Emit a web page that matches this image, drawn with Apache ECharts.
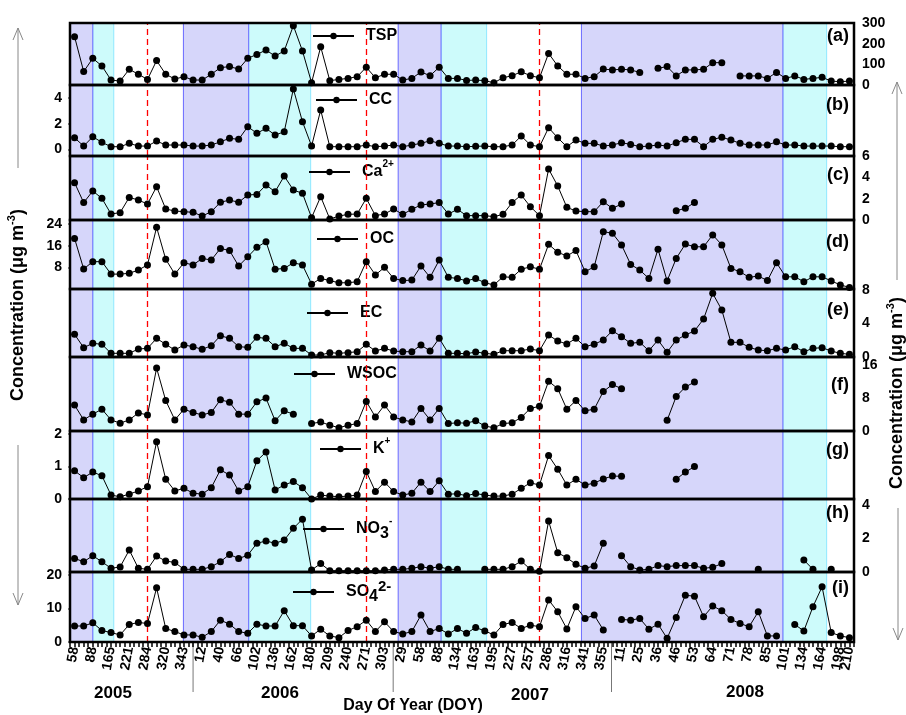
<!DOCTYPE html>
<html><head><meta charset="utf-8">
<script src="https://cdn.jsdelivr.net/npm/echarts@6/dist/echarts.min.js"></script>
<style>html,body{margin:0;padding:0;background:#fff}#c{width:906px;height:715px}</style>
</head><body><div id="c"></div>
<script>
// ---- tick labels (sample index -> DOY label) ----
const tickIdx = [0,2,4,6,8,10,12,14,16,18,20,22,24,26,28,30,32,34,36,38,40,42,44,46,48,50,52,54,56,58,60,62,64,66,68,70,72,74,76,78,80,82,84,85];
const tickLabels = ['58','88','165','221','284','320','343','12','40','66','102','136','162','180','209','240','271','303','29','58','88','134','163','195','227','257','286','316','341','355','11','25','36','46','53','64','71','78','85','101','134','164','198','210'];
const years = ['2005','2006','2007','2008'];
const yearBreaks = [13.0, 34.95, 58.9];
const redLines = [8, 32, 51];
const purpleBands = [[-0.5,2.0],[11.94,19.1],[35.5,40.2],[55.6,77.7]];
const cyanBands = [[2.0,4.3],[19.1,25.9],[40.2,45.2],[77.7,82.5]];
const N = null;
// ---- series values (µg m-3), one per sample ----
const TSP = [234,65,129,92,24,19,76,52,27,118,52,29,40,24,24,52,84,89,77,129,148,169,140,165,287,165,11,185,21,27,32,40,86,35,52,52,24,32,63,45,86,32,32,22,24,21,11,35,45,64,45,35,153,92,52,52,32,40,77,73,76,73,61,N,81,89,44,73,73,76,108,108,N,44,44,44,32,61,32,44,27,32,37,19,16,19];
const CC = [0.91,0.27,0.99,0.56,0.22,0.22,0.48,0.27,0.27,0.66,0.35,0.35,0.35,0.27,0.27,0.35,0.6,0.87,0.79,1.77,1.26,1.64,1.12,1.38,4.69,2.16,0.27,3.06,0.22,0.22,0.22,0.22,0.35,0.22,0.27,0.35,0.22,0.35,0.48,0.68,0.48,0.27,0.27,0.22,0.25,0.27,0.22,0.22,0.35,1.05,0.35,0.22,1.69,0.91,0.22,0.74,0.48,0.48,0.27,0.35,0.53,0.4,0.22,0.27,0.35,0.27,0.53,0.79,0.79,0.22,0.79,0.95,0.74,0.48,0.35,0.35,0.35,0.6,0.35,0.35,0.27,0.27,0.27,0.27,0.22,0.22];
const CA = [3.5,1.63,2.72,2.03,0.56,0.69,2.12,1.87,1.5,3.12,1.03,0.84,0.78,0.72,0.37,0.78,1.66,1.87,1.66,2.34,2.4,3.28,2.65,4.12,2.81,2.5,0.22,2.19,0.09,0.37,0.53,0.56,2.03,0.41,0.56,1.03,0.53,1.0,1.41,1.5,1.63,0.56,1.0,0.41,0.41,0.41,0.31,0.53,1.63,2.34,1.25,0.41,4.78,3.19,1.19,0.84,0.78,0.78,1.72,1.09,1.5,N,N,N,N,N,0.87,1.09,1.63,N,N,N,N,N,N,N,N,N,N,N,N,N,N,N,N,N];
const OC = [18.7,7.4,10.1,10.1,5.5,5.5,5.8,7.0,8.9,22.8,11.0,5.5,9.7,8.9,11.3,10.7,15.0,14.2,8.5,11.9,15.4,17.5,7.3,7.6,9.7,8.9,1.8,3.9,3.1,2.3,2.3,2.7,10.1,5.2,8.0,3.9,3.1,3.3,8.5,4.3,10.7,4.3,3.9,3.0,3.9,2.3,1.5,4.5,4.3,7.3,8.2,7.3,16.5,13.6,12.2,14.2,6.4,8.2,21.2,20.6,16.3,9.1,7.0,3.9,14.7,3.0,11.3,16.6,15.6,15.6,20.0,16.3,7.6,6.4,4.3,4.8,3.1,9.7,4.5,4.5,2.7,4.5,4.5,3.0,1.5,0.6];
const EC = [2.7,1.11,1.63,1.51,0.44,0.44,0.44,0.95,1.03,2.22,1.51,0.83,1.43,1.23,0.91,1.35,2.54,2.22,1.23,1.15,2.34,2.22,1.23,1.63,1.03,1.03,0.24,0.24,0.52,0.44,0.52,0.63,1.51,0.71,1.03,0.71,0.63,0.63,1.43,0.71,2.22,0.44,0.44,0.38,0.6,0.44,0.32,0.75,0.75,0.75,0.95,0.75,2.62,1.9,1.55,2.22,1.23,1.51,2.02,3.13,2.42,1.63,1.75,0.75,2.02,0.56,2.02,2.62,3.1,4.52,7.58,5.6,1.75,1.75,1.15,0.83,0.75,1.03,0.83,1.23,0.63,1.03,1.11,0.71,0.44,0.32];
const WSOC = [6.3,2.7,4.1,5.3,2.7,1.9,2.7,4.4,3.9,15.3,7.4,2.7,5.3,4.5,3.9,4.5,7.6,7.0,4.1,4.1,7.1,8.0,2.5,4.9,4.1,N,1.8,2.2,1.4,0.8,1.4,1.8,7.2,3.4,6.3,3.4,2.7,2.2,5.5,2.7,5.5,1.8,2.0,1.9,2.5,1.2,0.8,1.8,2.0,3.3,5.5,6.0,12.1,10.3,5.3,7.4,4.9,5.3,9.6,11.3,10.3,N,N,N,N,2.6,8.4,10.7,11.9,N,N,N,N,N,N,N,N,N,N,N,N,N,N,N,N,N];
const K = [0.87,0.66,0.83,0.72,0.12,0.07,0.15,0.25,0.38,1.77,0.61,0.25,0.33,0.18,0.15,0.35,0.9,0.74,0.25,0.38,1.18,1.45,0.28,0.43,0.54,0.35,0.0,0.12,0.09,0.07,0.09,0.12,0.85,0.23,0.52,0.23,0.12,0.18,0.52,0.23,0.56,0.15,0.16,0.1,0.17,0.12,0.09,0.09,0.15,0.33,0.5,0.43,1.34,0.92,0.43,0.61,0.43,0.49,0.62,0.71,0.7,N,N,N,N,N,0.61,0.83,1.0,N,N,N,N,N,N,N,N,N,N,N,N,N,N,N,N,N];
const NO3 = [0.81,0.61,0.97,0.61,0.22,0.3,1.31,0.22,0.16,0.95,0.65,0.57,0.16,0.16,0.16,0.32,0.61,1.05,0.8,1.0,1.71,1.85,1.71,1.9,2.6,3.15,0.12,0.5,0.08,0.08,0.08,0.08,0.08,0.08,0.12,0.16,0.16,0.22,0.32,0.22,0.32,0.16,0.16,N,N,0.16,0.16,0.16,0.32,0.65,0.16,0.05,3.04,1.15,0.85,0.46,0.22,0.36,1.71,N,0.97,0.32,0.12,0.16,0.38,0.32,0.38,0.38,0.38,0.22,0.28,0.5,N,N,N,0.16,N,N,N,N,0.71,0.16,N,0.16,N,N];
const SO4 = [4.75,4.75,5.7,3.4,2.8,2.1,5.2,5.8,5.5,16.1,4.0,3.1,2.1,2.1,1.4,3.1,6.5,5.3,3.1,2.6,5.3,4.75,4.75,9.3,4.85,4.85,1.8,3.8,1.8,1.3,3.4,4.55,6.5,3.1,6.0,3.1,2.4,3.1,8.0,3.1,4.0,2.4,4.0,2.6,4.3,3.3,2.1,5.2,5.8,4.0,5.0,4.55,12.5,9.0,3.9,10.5,7.0,8.0,3.6,N,6.7,6.5,7.0,3.8,5.3,1.1,7.3,13.9,13.6,7.5,10.7,9.3,6.7,5.5,4.55,9.0,1.8,1.8,N,5.2,3.3,10.5,16.4,2.8,1.8,1.3];

// ---- layout / style ----
const FONT = 'Liberation Sans, Arial, sans-serif';
const L = 70, R = 854, W = R - L;
const panels = [
  {name:'TSP', data:TSP, top:23, bot:85, side:'right', min:0, max:300, ticks:[0,100,200,300], letter:'(a)', ly:36, lg:[312,36]},
  {name:'CC', data:CC, top:85, bot:156, side:'left', min:-0.5, max:5, ticks:[0,2,4], letter:'(b)', ly:105, lg:[315,100]},
  {name:'Ca2+', data:CA, top:156, bot:220, side:'right', min:0, max:6, ticks:[0,2,4,6], letter:'(c)', ly:175, lg:[308,172]},
  {name:'OC', data:OC, top:220, bot:289, side:'left', min:0, max:25.5, ticks:[8,16,24], letter:'(d)', ly:242, lg:[316,239]},
  {name:'EC', data:EC, top:289, bot:357, side:'right', min:0, max:8.1, ticks:[0,4,8], letter:'(e)', ly:310, lg:[306,313]},
  {name:'WSOC', data:WSOC, top:357, bot:431, side:'right', min:0, max:18, ticks:[0,8,16], letter:'(f)', ly:385, lg:[293,374]},
  {name:'K+', data:K, top:431, bot:499, side:'left', min:0, max:2.1, ticks:[0,1,2], letter:'(g)', ly:450, lg:[319,449]},
  {name:'NO3-', data:NO3, top:499, bot:572, side:'right', min:0, max:4.35, ticks:[0,2,4], letter:'(h)', ly:513, lg:[302,529]},
  {name:'SO42-', data:SO4, top:572, bot:642, side:'left', min:0, max:20.8, ticks:[0,10,20], letter:'(i)', ly:588, lg:[292,592]}
];
const richNames = {'TSP':'TSP','CC':'CC','Ca2+':'Ca{sup|2+}','OC':'OC','EC':'EC','WSOC':'WSOC','K+':'K{sup|+}','NO3-':'NO{sub|3}{sup|-}','SO42-':'SO{sub|4}{sup2|2-}'};
const labelMap = {};
tickIdx.forEach((v,k)=>{ labelMap[v] = tickLabels[k]; });
const redStyle = {color:'#ff0000', type:[6,4], width:1.3, opacity:1};

const grids=[], xAxes=[], yAxes=[], series=[], legends=[], graphics=[];
panels.forEach((p,k)=>{
  grids.push({left:L, right:906-R, top:p.top, height:p.bot-p.top});
  const last = k===panels.length-1;
  xAxes.push({type:'value', gridIndex:k, min:-0.5, max:85.5, interval:0.5, show:last,
    axisLine:{show:false}, splitLine:{show:false},
    axisTick:{show:true, length:5, lineStyle:{color:'#000', width:1.5}},
    axisLabel:{show:true, rotate:80, margin:5, fontSize:14, fontWeight:'bold', color:'#000', fontFamily:FONT,
      formatter:(v)=> (Number.isInteger(v) && labelMap[v]!==undefined) ? labelMap[v] : ''}});
  yAxes.push({type:'value', gridIndex:k, position:p.side, min:p.min, max:p.max,
    axisLine:{show:false}, splitLine:{show:false},
    axisTick:{show:true, customValues:p.ticks, length:6, lineStyle:{color:'#000', width:2}},
    axisLabel:{show:true, customValues:p.ticks, margin:8, fontSize:14, fontWeight:'bold', color:'#000', fontFamily:FONT}});
  const areas = [];
  cyanBands.forEach(b=>areas.push([{xAxis:b[0], itemStyle:{color:'#cdfbfb', borderColor:'#8fe8ff', borderWidth:1}},{xAxis:b[1]}]));
  purpleBands.forEach(b=>areas.push([{xAxis:b[0], itemStyle:{color:'#d6d6fa', borderColor:'#6a6aff', borderWidth:1}},{xAxis:b[1]}]));
  // background bands + red reference lines on a helper series without data
  series.push({type:'line', name:'bg'+k, xAxisIndex:k, yAxisIndex:k, z:1, data:[], silent:true,
    color:'#ff0000',
    markArea:{silent:true, data:areas},
    markLine:{silent:true, symbol:['none','none'], label:{show:false}, animation:false,
      lineStyle:redStyle, emphasis:{disabled:true},
      data:redLines.map(x=>({xAxis:x}))}
  });
  series.push({type:'line', name:p.name, xAxisIndex:k, yAxisIndex:k, z:5,
    data:p.data.map((v,i)=>[i, v===null ? '-' : v]),
    connectNulls:false, symbol:'circle', symbolSize:7, showSymbol:true,
    itemStyle:{color:'#000'}, lineStyle:{color:'#000', width:1}, emphasis:{disabled:true}
  });
  legends.push({data:[p.name], left:p.lg[0], top:p.lg[1]-13, padding:0, itemWidth:41, itemHeight:8, selectedMode:false,
    formatter:(n)=>richNames[n],
    textStyle:{fontSize:16, fontWeight:'bold', color:'#000', fontFamily:FONT, lineHeight:26, padding:[0,0,0,7],
      rich:{
        sup:{fontSize:10, fontWeight:'bold', fontFamily:FONT, color:'#000', lineHeight:14, verticalAlign:'top'},
        sup2:{fontSize:15, fontWeight:'bold', fontFamily:FONT, color:'#000', lineHeight:16, verticalAlign:'top'},
        sub:{fontSize:16, fontWeight:'bold', fontFamily:FONT, color:'#000', lineHeight:16, verticalAlign:'bottom'}
      }}});
  graphics.push({type:'rect', z:100, silent:true, shape:{x:L, y:p.top, width:W, height:p.bot-p.top},
    style:{fill:null, stroke:'#000', lineWidth:2.5}});
  graphics.push({type:'text', z:101, x:849, y:p.ly, silent:true,
    style:{text:p.letter, font:'bold 18px '+FONT, fill:'#000', align:'right', verticalAlign:'middle'}});
});

const step = W/86;
const xOf = (i)=> L + (i+0.5)*step;
yearBreaks.forEach(b=>graphics.push({type:'line', silent:true, shape:{x1:xOf(b), y1:643, x2:xOf(b), y2:692}, style:{stroke:'#777', lineWidth:1}}));
const yearPos = [[113,693],[280,693],[530,695],[745,692]];
years.forEach((y,k)=>graphics.push({type:'text', silent:true, x:yearPos[k][0], y:yearPos[k][1],
  style:{text:y, font:'bold 17px '+FONT, fill:'#000', align:'center', verticalAlign:'middle'}}));
graphics.push({type:'text', silent:true, x:413, y:706, style:{text:'Day Of Year (DOY)', font:'bold 16px '+FONT, fill:'#000', align:'center', verticalAlign:'middle'}});
const titleRich = {sup:{fontSize:11, fontWeight:'bold', fontFamily:FONT, fill:'#000', lineHeight:12, verticalAlign:'top'}};
graphics.push({type:'text', silent:true, x:18, y:305, rotation:Math.PI/2,
  style:{text:'Concentration (μg m{sup|-3})', font:'bold 18px '+FONT, fill:'#000', align:'center', verticalAlign:'middle', lineHeight:24, rich:titleRich}});
graphics.push({type:'text', silent:true, x:897, y:393, rotation:Math.PI/2,
  style:{text:'Concentration (μg m{sup|-3})', font:'bold 18px '+FONT, fill:'#000', align:'center', verticalAlign:'middle', lineHeight:24, rich:titleRich}});
function arrow(x, y1, y2){ // arrow head at y2
  const d = y2<y1 ? 1 : -1;
  graphics.push({type:'line', silent:true, shape:{x1:x,y1:y1,x2:x,y2:y2}, style:{stroke:'#888', lineWidth:1}});
  graphics.push({type:'polyline', silent:true, shape:{points:[[x-5,y2+12*d],[x,y2],[x+5,y2+12*d]]}, style:{stroke:'#888', lineWidth:1, fill:null}});
}
arrow(18,168,28); arrow(18,445,605); arrow(897,280,82); arrow(898,508,640);

const chart = echarts.init(document.getElementById('c'), null, {renderer:'canvas'});
chart.setOption({
  animation:false, backgroundColor:'#fff',
  grid:grids, xAxis:xAxes, yAxis:yAxes, series:series, legend:legends, graphic:graphics
});
</script></body></html>
